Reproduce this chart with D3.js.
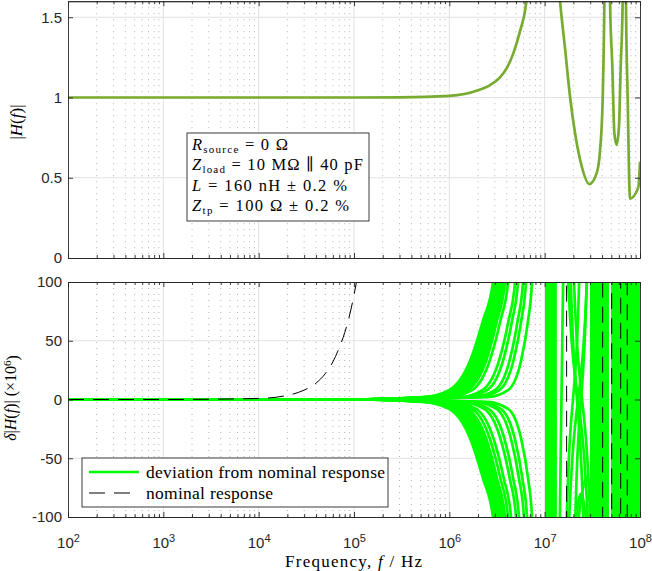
<!DOCTYPE html>
<html>
<head>
<meta charset="utf-8">
<script src="https://cdn.jsdelivr.net/npm/d3@7/dist/d3.min.js"></script>
<style>
html,body{margin:0;padding:0;background:#fff;}
svg{display:block;}
.tk text{font-family:"Liberation Sans",Arial,Helvetica,sans-serif;font-size:15px;fill:#262626;}
.tk path,.tk line{stroke:#262626;stroke-width:0.9;}
.serif{font-family:"Liberation Serif","Times New Roman","DejaVu Serif",serif;fill:#000;}
</style>
</head>
<body>
<svg id="chart" width="652" height="571"></svg>
<script>
// ---------------- DATA ----------------
const xMajor = [1e2, 1e3, 1e4, 1e5, 1e6, 1e7, 1e8];
const topYTicks = [0, 0.5, 1, 1.5];
const botYTicks = [-100, -50, 0, 50, 100];
const seriesNames = ["deviation from nominal response", "nominal response"];
const boxLines = ["R|source| = 0 Ω", "Z|load| = 10 MΩ ∥ 40 pF", "L|| = 160 nH ± 0.2 %", "Z|tp| = 100 Ω ± 0.2 %"];

// Top panel: nominal |H(f)| (values above 1.6 are off-axis)
const topF = [1e2, 1e4, 1e5, 3e5, 1e6, 2e6, 2.7e6, 3.4e6, 4.0e6, 4.69e6, 5.5e6, 6.37e6, 7.5e6, 9.5e6, 1.2e7, 1.45e7, 1.64e7, 1.85e7, 2.08e7, 2.45e7, 2.94e7, 3.52e7, 3.81e7, 4.06e7, 4.23e7, 4.5e7, 4.85e7, 5.13e7, 5.38e7, 5.69e7, 6.02e7, 6.27e7, 6.58e7, 6.85e7, 7.13e7, 7.43e7, 7.85e7, 9.6e7, 1e8];
const topH = [1, 1, 1.0001, 1.001, 1.01, 1.045, 1.079, 1.125, 1.183, 1.275, 1.41, 1.58, 2.1, 5, 2.3, 1.6, 1.30, 1.0, 0.78, 0.57, 0.46, 0.53, 0.67, 0.99, 1.6, 4, 1.6, 1.19, 0.78, 0.705, 0.82, 1.19, 1.6, 4, 1.6, 0.99, 0.37, 0.44, 0.60];

// Bottom panel: nominal response deviation (ppm), dashed (±2000 = off-axis)
const nomF = [1e2, 1e3, 1e4, 2e4, 3e4, 4e4, 5e4, 6e4, 7e4, 8e4, 9e4, 1e5, 1.2e5, 1.5e5, 3e5, 1e6, 1.66e7, 1.74e7, 2.94e7, 4.0e7, 4.12e7, 4.5e7, 5.0e7, 5.1e7, 5.69e7, 6.2e7, 6.35e7, 6.85e7, 7.3e7, 7.4e7, 7.85e7, 1e8];
const nomPPM = [0, 0.01, 0.9, 3.5, 8, 14, 22, 32, 44, 57, 72, 89, 128, 200, 800, 2000, 2000, -2000, -2000, -2000, 2000, 2000, 2000, -2000, -2000, -2000, 2000, 2000, 2000, -2000, -2000, -2000];

// Bottom panel: Monte Carlo deviations [Hz, ppm] (±2000 = off-axis)
const devUpper = [
 [[1e2,0],[1e5,0],[5.30e5,2],[9.93e5,8],[1.65e6,33],[2.25e6,67],[2.87e6,100],[8.94e6,2e3],[1.03e7,2e3],[1.06e7,-2e3],[1.72e7,-150],[2.92e7,150],[3.21e7,2e3],[3.30e7,-2e3],[5.09e7,-2e3],[5.21e7,2e3],[7.67e7,2e3],[7.85e7,-2e3],[1e8,-2e3]],
 [[1e2,0],[1e5,0],[5.62e5,2],[1.05e6,8],[1.73e6,33],[2.35e6,67],[2.98e6,100],[8.94e6,2e3],[1.06e7,2e3],[1.08e7,-2e3],[1.67e7,-130],[2.35e7,130],[3.30e7,2e3],[3.37e7,-2e3],[5.35e7,-2e3],[5.47e7,2e3],[8.05e7,2e3],[8.24e7,-2e3],[1e8,-2e3]],
 [[1e2,0],[1e5,0],[5.97e5,2],[1.12e6,8],[1.82e6,33],[2.45e6,67],[3.09e6,100],[8.94e6,2e3],[1.08e7,2e3],[1.11e7,-2e3],[2.03e7,-300],[2.24e7,-110],[2.47e7,-80],[2.78e7,-66],[2.99e7,-80],[3.14e7,-120],[3.30e7,-400],[3.37e7,-2e3],[3.46e7,2e3],[5.61e7,2e3],[5.74e7,-2e3],[8.45e7,-2e3],[8.65e7,2e3],[1e8,2e3]],
 [[1e2,0],[1e5,0],[6.35e5,2],[1.17e6,8],[1.90e6,33],[2.56e6,67],[3.20e6,100],[8.94e6,2e3],[1.11e7,2e3],[1.14e7,-2e3],[1.94e7,-300],[2.08e7,-120],[2.24e7,-88],[2.41e7,-80],[2.65e7,-95],[2.85e7,-130],[2.99e7,-400],[3.46e7,-2e3],[3.54e7,2e3],[5.89e7,2e3],[6.03e7,-2e3],[8.87e7,-2e3],[9.08e7,2e3],[1e8,2e3]],
 [[1e2,0],[1e5,0],[6.75e5,2],[1.24e6,8],[2.00e6,33],[2.67e6,67],[3.32e6,100],[8.94e6,2e3],[1.14e7,2e3],[1.17e7,-2e3],[2.03e7,-150],[2.85e7,150],[3.54e7,2e3],[3.63e7,-2e3],[6.18e7,-2e3],[6.32e7,2e3],[9.31e7,2e3],[9.53e7,-2e3],[1e8,-2e3]],
 [[1e2,0],[1e5,0],[7.16e5,2],[1.31e6,8],[2.09e6,33],[2.78e6,67],[3.44e6,100],[8.94e6,2e3],[1.17e7,2e3],[1.19e7,-2e3],[3.06e7,-2e3],[3.14e7,2e3],[3.63e7,2e3],[3.72e7,-2e3],[6.49e7,-2e3],[6.64e7,2e3],[9.77e7,2e3],[1e8,-2e3]],
 [[1e2,0],[1e5,0],[7.60e5,2],[1.39e6,8],[2.20e6,33],[2.90e6,67],[3.57e6,100],[8.94e6,2e3],[1.19e7,2e3],[1.22e7,-2e3],[3.14e7,-2e3],[3.21e7,2e3],[3.72e7,2e3],[3.81e7,-2e3],[6.79e7,-2e3],[6.97e7,2e3],[1e8,2e3]],
 [[1e2,0],[1e5,0],[8.09e5,2],[1.47e6,8],[2.31e6,33],[3.03e6,67],[3.70e6,100],[8.94e6,2e3],[1.03e7,2e3],[1.06e7,-2e3],[3.81e7,-2e3],[3.90e7,2e3],[7.13e7,2e3],[7.31e7,-2e3],[9.53e7,-2e3],[9.77e7,2e3],[1e8,2e3]],
 [[1e2,0],[1e5,0],[8.59e5,2],[1.55e6,8],[2.43e6,33],[3.16e6,67],[3.84e6,100],[8.94e6,2e3],[1.08e7,2e3],[1.11e7,-2e3],[3.90e7,-2e3],[4.00e7,2e3],[7.48e7,2e3],[7.67e7,-2e3],[9.08e7,-2e3],[9.31e7,2e3],[1e8,2e3]],
 [[1e2,0],[1e5,0],[9.68e5,2],[1.73e6,8],[2.65e6,33],[3.43e6,67],[4.13e6,100],[8.94e6,2e3],[1.14e7,2e3],[1.17e7,-2e3],[4.00e7,-2e3],[4.09e7,2e3],[7.85e7,2e3],[8.05e7,-2e3],[8.65e7,-2e3],[8.87e7,2e3],[1e8,2e3]],
 [[1e2,0],[1e5,0],[1.28e6,2],[2.23e6,8],[3.32e6,33],[4.18e6,67],[4.89e6,100],[8.94e6,2e3],[1.19e7,2e3],[1.22e7,-2e3],[4.09e7,-2e3],[4.20e7,2e3],[5.21e7,2e3],[5.35e7,-2e3],[8.24e7,-2e3],[8.45e7,2e3],[1e8,2e3]],
 [[1e2,0],[1e5,0],[1.44e6,2],[2.50e6,8],[3.66e6,33],[4.55e6,67],[5.26e6,100],[8.94e6,2e3],[1.06e7,2e3],[1.08e7,-2e3],[4.20e7,-2e3],[4.30e7,2e3],[5.47e7,2e3],[5.61e7,-2e3],[7.31e7,-2e3],[7.48e7,2e3],[1e8,2e3]],
 [[1e2,0],[1e5,0],[1.76e6,2],[3.00e6,8],[4.28e6,33],[5.21e6,67],[5.93e6,100],[8.94e6,2e3],[1.11e7,2e3],[1.14e7,-2e3],[4.30e7,-2e3],[4.41e7,2e3],[5.74e7,2e3],[5.89e7,-2e3],[6.97e7,-2e3],[7.13e7,2e3],[1e8,2e3]],
 [[1e2,0],[1e5,0],[1.99e6,2],[3.35e6,8],[4.70e6,33],[5.68e6,67],[6.37e6,100],[8.94e6,2e3],[1.17e7,2e3],[1.19e7,-2e3],[4.41e7,-2e3],[4.51e7,2e3],[6.03e7,2e3],[6.18e7,-2e3],[6.64e7,-2e3],[6.79e7,2e3],[1e8,2e3]],
 [[1e2,0],[1e5,0],[2.48e6,2],[4.13e6,8],[5.65e6,33],[6.69e6,67],[7.36e6,100],[8.94e6,2e3],[1.28e7,2e3],[1.32e7,-2e3],[4.51e7,-2e3],[4.62e7,2e3],[6.32e7,2e3],[6.49e7,-2e3],[7.85e7,-2e3],[8.05e7,2e3],[1e8,2e3]]
];
const devLower = [
 [[1e2,0],[1e5,0],[5.30e5,-2],[9.93e5,-8],[1.65e6,-33],[2.25e6,-67],[2.87e6,-100],[8.94e6,-2e3],[1.03e7,-2e3],[1.06e7,2e3],[1.67e7,150],[2.99e7,-150],[3.30e7,-2e3],[3.37e7,2e3],[5.21e7,2e3],[5.35e7,-2e3],[7.48e7,-2e3],[7.67e7,2e3],[1e8,2e3]],
 [[1e2,0],[1e5,0],[5.62e5,-2],[1.05e6,-8],[1.73e6,-33],[2.35e6,-67],[2.98e6,-100],[8.94e6,-2e3],[1.06e7,-2e3],[1.08e7,2e3],[1.94e7,150],[3.14e7,-150],[3.37e7,-2e3],[3.46e7,2e3],[5.47e7,2e3],[5.61e7,-2e3],[7.85e7,-2e3],[8.05e7,2e3],[1e8,2e3]],
 [[1e2,0],[1e5,0],[5.97e5,-2],[1.12e6,-8],[1.82e6,-33],[2.45e6,-67],[3.09e6,-100],[8.94e6,-2e3],[1.08e7,-2e3],[1.11e7,2e3],[1.80e7,160],[2.65e7,-160],[3.54e7,-2e3],[3.63e7,2e3],[5.74e7,2e3],[5.89e7,-2e3],[8.24e7,-2e3],[8.45e7,2e3],[1e8,2e3]],
 [[1e2,0],[1e5,0],[6.35e5,-2],[1.17e6,-8],[1.90e6,-33],[2.56e6,-67],[3.20e6,-100],[8.94e6,-2e3],[1.11e7,-2e3],[1.14e7,2e3],[3.06e7,2e3],[3.14e7,-2e3],[3.72e7,-2e3],[3.81e7,2e3],[6.03e7,2e3],[6.18e7,-2e3],[8.65e7,-2e3],[8.87e7,2e3],[1e8,2e3]],
 [[1e2,0],[1e5,0],[6.75e5,-2],[1.24e6,-8],[2.00e6,-33],[2.67e6,-67],[3.32e6,-100],[8.94e6,-2e3],[1.14e7,-2e3],[1.17e7,2e3],[3.14e7,2e3],[3.21e7,-2e3],[3.90e7,-2e3],[4.00e7,2e3],[6.32e7,2e3],[6.49e7,-2e3],[9.08e7,-2e3],[9.31e7,2e3],[1e8,2e3]],
 [[1e2,0],[1e5,0],[7.16e5,-2],[1.31e6,-8],[2.09e6,-33],[2.78e6,-67],[3.44e6,-100],[8.94e6,-2e3],[1.17e7,-2e3],[1.19e7,2e3],[3.21e7,2e3],[3.30e7,-2e3],[4.09e7,-2e3],[4.20e7,2e3],[6.64e7,2e3],[6.79e7,-2e3],[9.53e7,-2e3],[9.77e7,2e3],[1e8,2e3]],
 [[1e2,0],[1e5,0],[7.60e5,-2],[1.39e6,-8],[2.20e6,-33],[2.90e6,-67],[3.57e6,-100],[8.94e6,-2e3],[1.19e7,-2e3],[1.22e7,2e3],[3.46e7,2e3],[3.54e7,-2e3],[4.30e7,-2e3],[4.41e7,2e3],[6.97e7,2e3],[7.13e7,-2e3],[1e8,-2e3]],
 [[1e2,0],[1e5,0],[8.09e5,-2],[1.47e6,-8],[2.31e6,-33],[3.03e6,-67],[3.70e6,-100],[8.94e6,-2e3],[1.22e7,-2e3],[1.25e7,2e3],[3.63e7,2e3],[3.72e7,-2e3],[4.51e7,-2e3],[4.62e7,2e3],[7.31e7,2e3],[7.48e7,-2e3],[1e8,-2e3]],
 [[1e2,0],[1e5,0],[8.59e5,-2],[1.55e6,-8],[2.43e6,-33],[3.16e6,-67],[3.84e6,-100],[8.94e6,-2e3],[1.06e7,-2e3],[1.08e7,2e3],[3.81e7,2e3],[3.90e7,-2e3],[5.09e7,-2e3],[5.21e7,2e3],[7.67e7,2e3],[7.85e7,-2e3],[1e8,-2e3]],
 [[1e2,0],[1e5,0],[9.68e5,-2],[1.73e6,-8],[2.65e6,-33],[3.43e6,-67],[4.13e6,-100],[8.94e6,-2e3],[1.11e7,-2e3],[1.14e7,2e3],[4.00e7,2e3],[4.09e7,-2e3],[5.35e7,-2e3],[5.47e7,2e3],[8.05e7,2e3],[8.24e7,-2e3],[1e8,-2e3]],
 [[1e2,0],[1e5,0],[1.07e6,-2],[1.91e6,-8],[2.90e6,-33],[3.72e6,-67],[4.44e6,-100],[8.94e6,-2e3],[1.17e7,-2e3],[1.19e7,2e3],[4.20e7,2e3],[4.30e7,-2e3],[5.61e7,-2e3],[5.74e7,2e3],[8.45e7,2e3],[8.65e7,-2e3],[1e8,-2e3]],
 [[1e2,0],[1e5,0],[1.33e6,-2],[2.32e6,-8],[3.43e6,-33],[4.30e6,-67],[5.01e6,-100],[8.94e6,-2e3],[1.03e7,-2e3],[1.06e7,2e3],[4.41e7,2e3],[4.51e7,-2e3],[5.89e7,-2e3],[6.03e7,2e3],[8.87e7,2e3],[9.08e7,-2e3],[1e8,-2e3]],
 [[1e2,0],[1e5,0],[1.50e6,-2],[2.58e6,-8],[3.77e6,-33],[4.67e6,-67],[5.38e6,-100],[8.94e6,-2e3],[1.08e7,-2e3],[1.11e7,2e3],[3.06e7,2e3],[3.14e7,-2e3],[6.18e7,-2e3],[6.32e7,2e3],[9.31e7,2e3],[9.53e7,-2e3],[1e8,-2e3]],
 [[1e2,0],[1e5,0],[1.84e6,-2],[3.12e6,-8],[4.42e6,-33],[5.37e6,-67],[6.07e6,-100],[8.94e6,-2e3],[1.14e7,-2e3],[1.17e7,2e3],[3.21e7,2e3],[3.30e7,-2e3],[6.49e7,-2e3],[6.64e7,2e3],[9.77e7,2e3],[1e8,-2e3]],
 [[1e2,0],[1e5,0],[2.06e6,-2],[3.47e6,-8],[4.85e6,-33],[5.83e6,-67],[6.53e6,-100],[8.94e6,-2e3],[1.41e7,-160],[1.60e7,160],[3.37e7,2e3],[3.46e7,-2e3],[6.79e7,-2e3],[6.97e7,2e3],[7.13e7,2e3],[7.31e7,-2e3],[1e8,-2e3]],
 [[1e2,0],[1e5,0],[2.48e6,-2],[4.13e6,-8],[5.65e6,-33],[6.69e6,-67],[7.36e6,-100],[8.94e6,-2e3],[1.22e7,-2e3],[1.25e7,2e3],[3.54e7,2e3],[3.63e7,-2e3],[7.13e7,-2e3],[7.31e7,2e3],[8.24e7,2e3],[8.45e7,-2e3],[1e8,-2e3]]
];

// ---------------- CHART ----------------
const svg = d3.select("#chart");
const X0 = 68, X1 = 640;
const x = d3.scaleLog().domain([1e2, 1e8]).range([X0, X1]);
const xMinor = x.ticks().filter(v => Math.abs(Math.log10(v) - Math.round(Math.log10(v))) > 1e-9);

const pTop = {y: d3.scaleLinear().domain([0, 1.6]).range([258, 1.2]), ticks: topYTicks, top: 1.2, bot: 258, xLabels: false, id: "clipTop"};
const pBot = {y: d3.scaleLinear().domain([-100, 100]).range([517, 282]), ticks: botYTicks, top: 282, bot: 517, xLabels: true, id: "clipBot"};

const defs = svg.append("defs");
[pTop, pBot].forEach(p => {
  defs.append("clipPath").attr("id", p.id).append("rect")
    .attr("x", X0).attr("y", p.top).attr("width", X1 - X0).attr("height", p.bot - p.top);
});

function drawGrid(p) {
  const g = svg.append("g");
  g.selectAll("line.mn").data(xMinor).join("line").attr("class", "mn")
    .attr("x1", d => x(d)).attr("x2", d => x(d)).attr("y1", p.top).attr("y2", p.bot)
    .attr("stroke", "#b4b4b4").attr("stroke-width", 1).attr("stroke-dasharray", "1,5");
  g.selectAll("line.mj").data(xMajor.slice(1, -1)).join("line").attr("class", "mj")
    .attr("x1", d => x(d)).attr("x2", d => x(d)).attr("y1", p.top).attr("y2", p.bot)
    .attr("stroke", "#e1e1e1").attr("stroke-width", 1);
  const yd = p.y.domain();
  g.selectAll("line.gy").data(p.ticks.filter(v => v !== yd[0] && v !== yd[1])).join("line").attr("class", "gy")
    .attr("x1", X0).attr("x2", X1).attr("y1", d => p.y(d)).attr("y2", d => p.y(d))
    .attr("stroke", "#e1e1e1").attr("stroke-width", 1);
}

function drawAxes(p) {
  const mk = (axis, tr) => svg.append("g").attr("class", "tk").attr("transform", tr).call(axis);
  const b = mk(d3.axisBottom(x).tickValues(xMajor).tickSizeInner(-5).tickSizeOuter(0).tickPadding(20).tickFormat(() => ""), `translate(0,${p.bot})`);
  if (p.xLabels) {
    b.selectAll(".tick text").each(function(d) {
      const t = d3.select(this);
      t.text(null);
      t.append("tspan").text("10");
      t.append("tspan").attr("dy", "-0.5em").attr("font-size", "11px").text(Math.round(Math.log10(d)));
    });
  }
  mk(d3.axisBottom(x).tickValues(xMinor).tickSizeInner(-3).tickSizeOuter(0).tickFormat(""), `translate(0,${p.bot})`);
  mk(d3.axisTop(x).tickValues(xMajor).tickSizeInner(-5).tickSizeOuter(0).tickFormat(""), `translate(0,${p.top})`);
  mk(d3.axisTop(x).tickValues(xMinor).tickSizeInner(-3).tickSizeOuter(0).tickFormat(""), `translate(0,${p.top})`);
  mk(d3.axisLeft(p.y).tickValues(p.ticks).tickSizeInner(-5).tickSizeOuter(0).tickPadding(6).tickFormat(d => String(d)), `translate(${X0},0)`);
  mk(d3.axisRight(p.y).tickValues(p.ticks).tickSizeInner(-5).tickSizeOuter(0).tickFormat(""), `translate(${X1},0)`);
}

drawGrid(pTop);
drawGrid(pBot);

// top curve
const lineTop = d3.line().x(d => x(d[0])).y(d => pTop.y(d[1])).curve(d3.curveMonotoneX);
svg.append("g").attr("clip-path", "url(#clipTop)").append("path")
  .datum(topF.map((f, i) => [f, topH[i]]))
  .attr("d", lineTop).attr("fill", "none").attr("stroke", "#77AC30").attr("stroke-width", 2.7)
  .attr("stroke-linejoin", "round");

// bottom curves
const lineBot = d3.line().x(d => x(d[0])).y(d => pBot.y(d[1])).curve(d3.curveMonotoneX);
const gb = svg.append("g").attr("clip-path", "url(#clipBot)");
gb.selectAll("path.dev").data(devUpper.concat(devLower)).join("path").attr("class", "dev")
  .attr("d", lineBot).attr("fill", "none").attr("stroke", "#00FF00").attr("stroke-width", 2.7)
  .attr("stroke-linejoin", "round");
gb.append("path").datum(nomF.map((f, i) => [f, nomPPM[i]]))
  .attr("d", lineBot).attr("fill", "none").attr("stroke", "#000").attr("stroke-width", 1)
  .attr("stroke-dasharray", "16,9");

drawAxes(pTop);
drawAxes(pBot);

// y labels
const yl1 = svg.append("text").attr("class", "serif").attr("font-size", 17)
  .attr("text-anchor", "middle").attr("transform", "translate(22,122) rotate(-90)").attr("fill", "#262626");
yl1.append("tspan").text("|");
yl1.append("tspan").attr("font-style", "italic").text("H");
yl1.append("tspan").text("(");
yl1.append("tspan").attr("font-style", "italic").text("f");
yl1.append("tspan").text(")|");

const yl2 = svg.append("text").attr("class", "serif").attr("font-size", 16)
  .attr("text-anchor", "middle").attr("transform", "translate(16,398) rotate(-90)");
yl2.append("tspan").attr("font-style", "italic").text("δ");
yl2.append("tspan").text("|");
yl2.append("tspan").attr("font-style", "italic").text("H");
yl2.append("tspan").text("(");
yl2.append("tspan").attr("font-style", "italic").text("f");
yl2.append("tspan").text(")|  (×10");
yl2.append("tspan").attr("dy", "-0.45em").attr("font-size", 11).text("6");
yl2.append("tspan").attr("dy", "0.45em").text(")");

// x label
const xl = svg.append("text").attr("class", "serif").attr("font-size", 17)
  .attr("x", 285).attr("y", 567).attr("textLength", 137).attr("lengthAdjust", "spacing");
xl.append("tspan").text("Frequency, ");
xl.append("tspan").attr("font-style", "italic").text("f");
xl.append("tspan").text(" / Hz");

// annotation box
svg.append("rect").attr("x", 187).attr("y", 133).attr("width", 182).attr("height", 88)
  .attr("fill", "#fff").attr("stroke", "#262626").attr("stroke-width", 0.9);
const baselines = [149.5, 170, 190.5, 211];
const lineWidths = [96, 171, 155, 157];
boxLines.forEach((s, i) => {
  const parts = s.split("|");
  const t = svg.append("text").attr("class", "serif").attr("font-size", 16.5)
    .attr("x", 192).attr("y", baselines[i])
    .attr("textLength", lineWidths[i]).attr("lengthAdjust", "spacing");
  t.append("tspan").attr("font-style", "italic").text(parts[0]);
  if (parts[1]) {
    t.append("tspan").attr("font-size", 11).attr("dy", 3).text(parts[1]);
    t.append("tspan").attr("dy", -3).text(parts[2]);
  } else {
    t.append("tspan").text(parts[2]);
  }
});

// legend
svg.append("rect").attr("x", 82).attr("y", 458).attr("width", 306).attr("height", 49)
  .attr("fill", "#fff").attr("stroke", "#262626").attr("stroke-width", 0.9);
svg.append("line").attr("x1", 89).attr("x2", 139).attr("y1", 472).attr("y2", 472)
  .attr("stroke", "#00FF00").attr("stroke-width", 2.7);
svg.append("line").attr("x1", 89).attr("x2", 139).attr("y1", 493).attr("y2", 493)
  .attr("stroke", "#000").attr("stroke-width", 1).attr("stroke-dasharray", "16,9");
svg.append("text").attr("class", "serif").attr("font-size", 17.5).attr("x", 146).attr("y", 477.5)
  .attr("textLength", 239).attr("lengthAdjust", "spacing").text(seriesNames[0]);
svg.append("text").attr("class", "serif").attr("font-size", 17.5).attr("x", 146).attr("y", 498.5)
  .attr("textLength", 127).attr("lengthAdjust", "spacing").text(seriesNames[1]);
</script>
</body>
</html>
